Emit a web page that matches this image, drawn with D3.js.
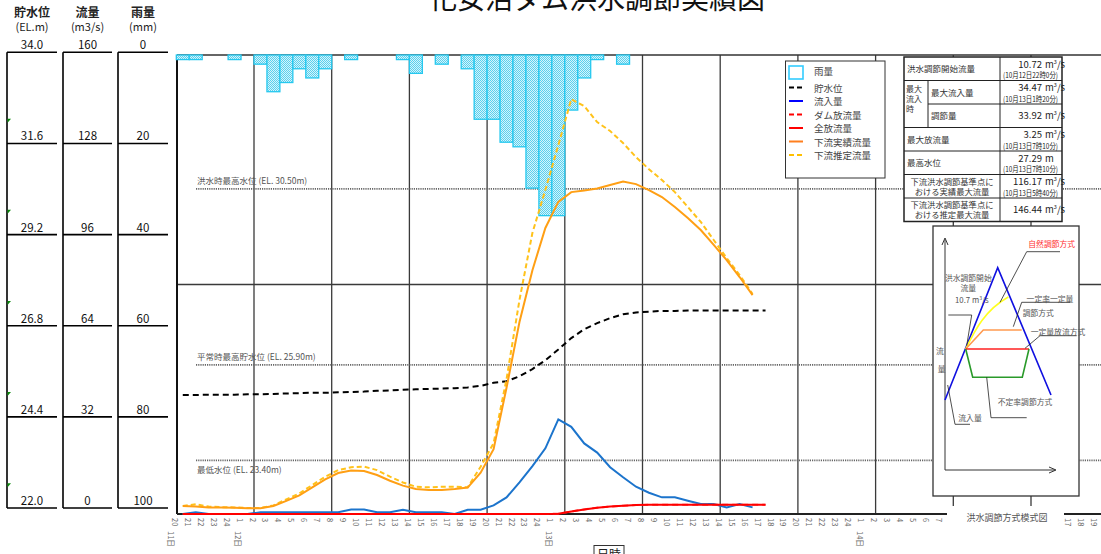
<!DOCTYPE html>
<html><head><meta charset="utf-8">
<script src="https://cdn.jsdelivr.net/npm/d3@7"></script>
<style>
body{margin:0;background:#fff;overflow:hidden;}
svg{display:block;}
text{font-family:"Noto Sans CJK JP","Liberation Sans",sans-serif;}
</style></head><body>
<svg id="c" width="1101" height="554"></svg>
<script>
// ---------------- DATA ----------------
const title = "化女沼ダム洪水調節実績図";
// hourly time index 0 = 11日20時
const hourLabels = ["20","21","22","23","24",
 "1","2","3","4","5","6","7","8","9","10","11","12","13","14","15","16","17","18","19","20","21","22","23","24",
 "1","2","3","4","5","6","7","8","9","10","11","12","13","14","15","16","17","18","19","20","21","22","23","24",
 "1","2","3","4","5","6","7","8","9","10","11","12","13","14","15","16","17","18","19"];
const dayLabels = ["11日","12日","13日","14日"];
const dayLabelIndex = [0,5,29,53];

// rainfall (mm/h), hours 0..34
const rain = [1,1,0,0,1,0,2,8,6,3,5,3,0,1,0,0,0,1,4,0,2,0,3,14,14,19,20,29,35,35,12,5,1,0,2];
// water level (EL.m)
const level = [25.11,25.11,25.12,25.12,25.12,25.13,25.13,25.14,25.15,25.16,25.17,25.17,25.18,25.19,25.20,25.22,25.23,25.25,25.26,25.27,25.28,25.29,25.31,25.35,25.43,25.47,25.60,25.79,26.02,26.30,26.60,26.83,26.99,27.12,27.22,27.27,27.29,27.31,27.31,27.32,27.32,27.32,27.32,27.32,27.32,27.32];
// inflow (m3/s)
const inflow = [0,0.6,0,0,0,0,0.6,0.6,0.6,0.6,0.6,0.6,0.6,1.6,1.6,0.6,0.6,1.5,0.6,0.6,0.6,0,1.5,1.5,3.0,5.8,11.0,16.7,22.9,33.0,30.4,24.6,21.4,16.3,12.8,9.5,7.4,5.8,5.8,4.6,3.5,3.5,2.3,3.5,2.3];
// dam release (m3/s)
const damRelease = [0,0,0,0,0,0,0,0,0,0,0,0,0,0,0,0,0,0,0,0,0,0,0,0,0,0,0,0,0,0.1,0.9,1.6,2.2,2.6,2.9,3.1,3.2,3.25,3.25,3.25,3.25,3.25,3.25,3.25,3.25,3.25];
// total release (m3/s)
const totalRelease = [0,0,0,0,0,0,0,0,0,0,0,0,0,0,0,0,0,0,0,0,0,0,0,0,0,0,0,0,0,0.1,0.9,1.6,2.2,2.6,2.9,3.1,3.2,3.25,3.25,3.25,3.25,3.25,3.25,3.25,3.25,3.25];
// downstream actual flow (m3/s)
const downActual = [2.8,2.6,2.3,2.3,2.2,2.0,2.0,2.8,4.6,6.5,9.3,12.1,14.3,15.2,15.0,13.6,11.6,9.9,8.7,8.4,8.4,8.7,9.2,14.4,22.6,44,66.9,85.0,99.7,108.8,112.2,112.8,113.5,114.7,115.9,115.0,112.9,110.5,107.0,103.2,99.0,93.8,88.5,82.6,76.3];
// downstream estimated flow (m3/s)
const downEst = [2.8,3.4,2.6,2.4,2.3,2.1,2.1,3.0,5.1,7.2,10.1,13.0,15.3,16.3,16.5,15.3,13.0,11.0,9.5,9.3,9.5,9.5,9.3,16.5,24.7,47,74.6,98,113,128.6,144.6,142.2,136.6,133.5,129.3,124.4,120.2,116.4,112.2,107,101.8,95.5,89.2,83.3,76.7];

// reference levels
const refLevels = [30.50, 25.90, 23.40];
const refNames = ["洪水時最高水位 (EL. 30.50m)","平常時最高貯水位 (EL. 25.90m)","最低水位 (EL. 23.40m)"];

// left axis ticks
const levelTicks = ["34.0","31.6","29.2","26.8","24.4","22.0"];
const flowTicks = ["160","128","96","64","32","0"];
const rainTicks = ["0","20","40","60","80","100"];
const greenMarks = [32.2,29.8,27.4,25.0,22.6];

const legendNames = ["雨量","貯水位","流入量","ダム放流量","全放流量","下流実績流量","下流推定流量"];

const tableLabels = ["洪水調節開始流量","最大流入量","調節量","最大放流量","最高水位",
  "下流洪水調節基準点に|おける実績最大流量","下流洪水調節基準点に|おける推定最大流量"];
const tableValues = ["10.72","34.47","33.92","3.25","27.29","116.17","146.44"];
const tableUnits = ["m3","m3","m3","m3","m","m3","m3"];
const tableDates = ["(10月12日22時0分)","(10月13日1時20分)","","(10月13日7時10分)","(10月13日7時10分)","(10月13日5時40分)",""];

// ---------------- CHART ----------------
const svg = d3.select("#c");
const pTop = 55, pBottom = 514, pLeft = 177, pRight = 1101;
const x = d3.scaleLinear().domain([0,72]).range([176.3, 176.3 + 72*12.95]);
const yFlow = d3.scaleLinear().domain([0,160]).range([pBottom, pTop]);
const yLevel = d3.scaleLinear().domain([22,34]).range([pBottom, pTop]);
const yRain = d3.scaleLinear().domain([0,100]).range([pTop, pBottom]);

// pattern for rain bars
const defs = svg.append("defs");
const pat = defs.append("pattern").attr("id","rainPat").attr("patternUnits","userSpaceOnUse").attr("width",2).attr("height",2);
pat.append("rect").attr("width",2).attr("height",2).attr("fill","#d6f4fb");
pat.append("rect").attr("width",1).attr("height",1).attr("fill","#5ad0ee");
pat.append("rect").attr("x",1).attr("y",1).attr("width",1).attr("height",1).attr("fill","#5ad0ee");

// title
svg.append("text").attr("x",597).attr("y",9).attr("text-anchor","middle")
  .attr("font-size",28).attr("fill","#111").text(title);

// left axes columns
const yLeft = d3.scaleLinear().domain([0,5]).range([52.3,508]);
const yLeftLevel = d3.scaleLinear().domain([34,22]).range([52.3,508]);
const cols = [{x0:7,x1:57,ticks:levelTicks,h1:"貯水位",h2:"(EL.m)"},
              {x0:63,x1:112,ticks:flowTicks,h1:"流量",h2:"(m3/s)"},
              {x0:118,x1:168,ticks:rainTicks,h1:"雨量",h2:"(mm)"}];
cols.forEach(c=>{
  const g = svg.append("g");
  const cx = (c.x0+c.x1)/2;
  g.append("text").attr("x",cx).attr("y",17).attr("text-anchor","middle").attr("font-size",12).attr("font-weight","bold").attr("fill","#222").text(c.h1);
  g.append("text").attr("x",cx).attr("y",31).attr("text-anchor","middle").attr("font-size",11).attr("fill","#222").text(c.h2);
  g.append("line").attr("x1",c.x0).attr("x2",c.x0).attr("y1",yLeft(0)).attr("y2",yLeft(5)).attr("stroke","#000").attr("stroke-width",1.6);
  c.ticks.forEach((t,k)=>{
    g.append("line").attr("x1",c.x0).attr("x2",c.x1).attr("y1",yLeft(k)).attr("y2",yLeft(k)).attr("stroke","#000").attr("stroke-width",1.6);
    g.append("text").attr("x",cx).attr("y",yLeft(k)-3).attr("text-anchor","middle")
      .attr("font-family","Liberation Sans").attr("font-size",11.5).attr("fill","#111").text(t);
  });
});
greenMarks.forEach(v=>{
  const yy = yLeftLevel(v);
  svg.append("path").attr("d",`M7.5,${yy-2}L11,${yy-2}L7.5,${yy+2}Z`).attr("fill","#0a8a0a");
});

// grid
const grid = svg.append("g");
d3.range(6,72,6).forEach(i=>{
  grid.append("line").attr("x1",x(i)).attr("x2",x(i)).attr("y1",pTop).attr("y2",pBottom)
    .attr("stroke","#3a3a3a").attr("stroke-width",1.3);
});
grid.append("line").attr("x1",pLeft).attr("x2",pRight).attr("y1",yFlow(80)).attr("y2",yFlow(80)).attr("stroke","#3a3a3a").attr("stroke-width",1.3);
grid.append("line").attr("x1",pLeft).attr("x2",pRight).attr("y1",pTop).attr("y2",pTop).attr("stroke","#333").attr("stroke-width",1.6);
grid.append("line").attr("x1",pLeft).attr("x2",pLeft).attr("y1",pTop).attr("y2",pBottom).attr("stroke","#111").attr("stroke-width",2);
grid.append("line").attr("x1",pLeft).attr("x2",pRight).attr("y1",pBottom).attr("y2",pBottom).attr("stroke","#222").attr("stroke-width",2);

// reference levels
refLevels.forEach((v,k)=>{
  const yy = yLevel(v);
  grid.append("line").attr("x1",196).attr("x2",pRight).attr("y1",yy).attr("y2",yy)
    .attr("stroke","#666").attr("stroke-width",1.8).attr("stroke-dasharray","1.2,1");
  grid.append("text").attr("x",197).attr("y", k===2 ? yy+13 : yy-5)
    .attr("font-family","Liberation Serif, Noto Sans CJK JP").attr("font-size",8.5).attr("fill","#555").text(refNames[k]);
});

// rain bars
svg.append("g").selectAll("rect").data(rain.map((v,i)=>({i,v})).filter(d=>d.v>0)).join("rect")
  .attr("x",d=>x(d.i)).attr("width",d=>x(d.i+1)-x(d.i))
  .attr("y",yRain(0)).attr("height",d=>yRain(d.v)-yRain(0))
  .attr("fill","url(#rainPat)").attr("stroke","#25c8ef").attr("stroke-width",1.3);

// series
const mk = (sc)=> d3.line().x((d,i)=>x(i+0.5)).y(d=>sc(d));
const series = [
  {data:level, sc:yLevel, color:"#000", dash:"6,4", w:2},
  {data:inflow, sc:yFlow, color:"#1c74cc", dash:null, w:2},
  {data:damRelease, sc:yFlow, color:"#ff5050", dash:"6,4", w:2},
  {data:totalRelease, sc:yFlow, color:"#ff0000", dash:null, w:2},
  {data:downEst, sc:yFlow, color:"#ffc21a", dash:"5,3", w:2},
  {data:downActual, sc:yFlow, color:"#ff9f14", dash:null, w:2},
];
series.forEach(s=>{
  svg.append("path").attr("d",mk(s.sc)(s.data)).attr("fill","none").attr("stroke",s.color)
    .attr("stroke-width",s.w).attr("stroke-dasharray",s.dash);
});

// legend
const lg = svg.append("g");
lg.append("rect").attr("x",785.5).attr("y",61).attr("width",99.5).attr("height",117).attr("fill","#fff").attr("stroke","#333");
const legendStyles = [
  {type:"rect"},
  {color:"#000",dash:"5,3"},
  {color:"#0000ff",dash:null},
  {color:"#ff0000",dash:"5,3"},
  {color:"#ff0000",dash:null},
  {color:"#ff7f1e",dash:null},
  {color:"#ffc000",dash:"5,3"}];
legendNames.forEach((n,k)=>{
  const yy = 71 + k*13.5;
  const st = legendStyles[k];
  if(st.type==="rect"){
    lg.append("rect").attr("x",789).attr("y",66).attr("width",14).attr("height",13).attr("fill","#fff").attr("stroke","#33ccff").attr("stroke-width",1.6);
  } else {
    lg.append("line").attr("x1",789).attr("x2",803).attr("y1",yy+3).attr("y2",yy+3).attr("stroke",st.color).attr("stroke-width",2).attr("stroke-dasharray",st.dash);
  }
  lg.append("text").attr("x",814).attr("y",yy+ (k===0?3.5:7)).attr("font-size",9.5).attr("fill","#444").text(n);
});

// table
const tb = svg.append("g");
const tx0=904, tx1=1062, ty0=57, rh=23.5, tc=1000, ts=928;
tb.append("rect").attr("x",tx0).attr("y",ty0).attr("width",tx1-tx0).attr("height",rh*7).attr("fill","#fff").attr("stroke","#222").attr("stroke-width",1.5);
tb.append("line").attr("x1",tc).attr("x2",tc).attr("y1",ty0).attr("y2",ty0+rh*7).attr("stroke","#222");
tb.append("line").attr("x1",ts).attr("x2",ts).attr("y1",ty0+rh).attr("y2",ty0+rh*3).attr("stroke","#222");
for(let r=1;r<7;r++){
  tb.append("line").attr("x1",r===2?ts:tx0).attr("x2",tx1).attr("y1",ty0+rh*r).attr("y2",ty0+rh*r).attr("stroke","#222");
}
["最大","流入","時"].forEach((s,k)=>{
  tb.append("text").attr("x",906).attr("y",ty0+rh+11+k*10).attr("font-size",8).attr("fill","#333").text(s);
});
tableLabels.forEach((lab,r)=>{
  const yt = ty0+rh*r;
  const parts = lab.split("|");
  if(parts.length===2){
    parts.forEach((p,k)=>tb.append("text").attr("x",(tx0+tc)/2).attr("y",yt+10+k*10).attr("text-anchor","middle").attr("font-size",8.3).attr("fill","#333").text(p));
  } else {
    tb.append("text").attr("x",(r===1||r===2)?931:907).attr("y",yt+15).attr("font-size",8.5).attr("fill","#333").text(lab);
  }
  const hasDate = tableDates[r]!=="";
  const vy = hasDate ? yt+10.5 : yt+15;
  tb.append("text").attr("x",1042).attr("y",vy).attr("text-anchor","end").attr("font-family","Liberation Serif").attr("font-size",9.5).attr("fill","#222").text(tableValues[r]);
  const u = tb.append("text").attr("x",1045).attr("y",vy).attr("font-family","Liberation Serif").attr("font-size",9.5).attr("fill","#222");
  u.append("tspan").text("m");
  if(tableUnits[r]==="m3"){
    u.append("tspan").attr("dy",-4).attr("font-size",5.5).text("3");
    u.append("tspan").attr("dy",4).text("/s");
  }
  if(hasDate){
    tb.append("text").attr("x",1003).attr("y",yt+21).attr("textLength",55).attr("lengthAdjust","spacingAndGlyphs")
      .attr("font-family","Liberation Serif, Noto Sans CJK JP").attr("font-size",8).attr("fill","#222").text(tableDates[r]);
  }
});

// inset schematic
const ins = svg.append("g");
ins.append("rect").attr("x",933).attr("y",226).attr("width",146).attr("height",270).attr("fill","#fff").attr("stroke","#333").attr("stroke-width",1.3);
const ax = 945, ay = 470;
ins.append("line").attr("x1",ax).attr("x2",ax).attr("y1",ay).attr("y2",240).attr("stroke","#333");
ins.append("path").attr("d",`M${ax-3},245L${ax},238L${ax+3},245`).attr("fill","none").attr("stroke","#333");
ins.append("line").attr("x1",ax).attr("x2",1055).attr("y1",ay).attr("y2",ay).attr("stroke","#333");
ins.append("path").attr("d",`M1049,${ay-3}L1056,${ay}L1049,${ay+3}`).attr("fill","none").attr("stroke","#333");
ins.append("path").attr("d","M945,400L997.7,267.7L1051,395").attr("fill","none").attr("stroke","#1010e0").attr("stroke-width",1.6);
ins.append("path").attr("d","M965.7,349C975,330 985,310 1008.3,297").attr("fill","none").attr("stroke","#ffff20").attr("stroke-width",1.6);
ins.append("path").attr("d","M965.7,349L983.3,330L1021.7,330").attr("fill","none").attr("stroke","#ff9a50").attr("stroke-width",1.6);
ins.append("path").attr("d","M965.7,349L1029,349").attr("fill","none").attr("stroke","#ff2020").attr("stroke-width",1.6);
ins.append("path").attr("d","M965.7,349L972.7,377.3L1022.3,377.3L1029,349").attr("fill","none").attr("stroke","#2a9a2a").attr("stroke-width",1.6);
const leader = d=>ins.append("path").attr("d",d).attr("fill","none").attr("stroke","#222").attr("stroke-width",0.8);
leader("M1060,251.7L1026.7,251.7L1000,302.3");
leader("M948.3,315L971.7,315L966.7,345.7");
leader("M1070,302.3L1021.7,302.3L1013.3,326.7");
leader("M1076.7,335.7L1040,335.7L1025,348.3");
leader("M986.7,377.3L991,417.7L1026.7,417.7");
leader("M947.7,385L955,424.3L970,424.3");
const it = (s,xx,yy,col,anchor)=>ins.append("text").attr("x",xx).attr("y",yy).attr("text-anchor",anchor||"middle").attr("font-size",7.8).attr("fill",col||"#555").text(s);
it("自然調節方式",1051.7,246.5,"#ff3030");
it("洪水調節開始",968.3,281);
it("流量",968.3,290.5);
const t107 = ins.append("text").attr("x",955).attr("y",302.5).attr("font-family","Liberation Serif").attr("font-size",7.8).attr("fill","#555");
t107.append("tspan").text("10.7  m");
t107.append("tspan").attr("dy",-3).attr("font-size",5).text("3");
t107.append("tspan").attr("dy",3).text("/s");
it("一定率一定量",1050,302);
it("調節方式",1038.3,315.5);
it("一定量放流方式",1058,334.5);
it("流",940,354);
it("量",941.7,372);
it("不定率調節方式",1025,404.5);
it("流入量",970,420.5);

// x axis labels
const xl = svg.append("g");
hourLabels.forEach((h,i)=>{
  xl.append("text").attr("transform",`translate(${x(i)-4.5},518) rotate(90)`)
    .attr("font-family","Liberation Sans").attr("font-size",7.5).attr("fill","#666").text(h);
});
dayLabels.forEach((d,k)=>{
  xl.append("text").attr("transform",`translate(${x(dayLabelIndex[k])-(k===0?8:6)},531) rotate(90)`)
    .attr("font-size",7.5).attr("fill","#666").text(d);
});
// caption of inset
svg.append("rect").attr("x",947).attr("y",506).attr("width",117).attr("height",26).attr("fill","#fff");
svg.append("text").attr("x",1007).attr("y",521).attr("text-anchor","middle").attr("font-size",9).attr("fill","#555").text("洪水調節方式模式図");
// 日時 box
svg.append("rect").attr("x",594).attr("y",545.5).attr("width",30).attr("height",20).attr("fill","#fff").attr("stroke","#333");
svg.append("text").attr("x",609).attr("y",559).attr("text-anchor","middle").attr("font-size",12).attr("fill","#222").text("日時");
</script>
</body></html>
